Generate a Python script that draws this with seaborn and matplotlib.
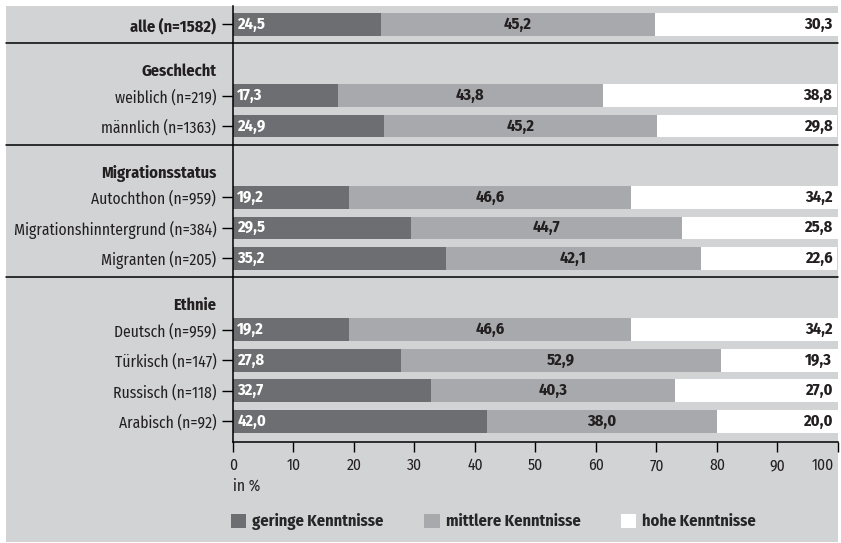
import seaborn as sns
import matplotlib.pyplot as plt
import pandas as pd
from matplotlib.patches import Rectangle, Patch
from matplotlib.transforms import ScaledTranslation

# Data (shares in %)
headers = ["", "Geschlecht", "Migrationsstatus", "Ethnie"]
row_labels = [
    ["alle (n=1582)"],
    ["weiblich (n=219)", "männlich (n=1363)"],
    ["Autochthon (n=959)", "Migrationshinntergrund (n=384)", "Migranten (n=205)"],
    ["Deutsch (n=959)", "Türkisch (n=147)", "Russisch (n=118)", "Arabisch (n=92)"],
]
geringe = [24.5, 17.3, 24.9, 19.2, 29.5, 35.2, 19.2, 27.8, 32.7, 42.0]
mittlere = [45.2, 43.8, 45.2, 46.6, 44.7, 42.1, 46.6, 52.9, 40.3, 38.0]
hohe = [30.3, 38.8, 29.8, 34.2, 25.8, 22.6, 34.2, 19.3, 27.0, 20.0]
legend_labels = ["geringe Kenntnisse", "mittlere Kenntnisse", "hohe Kenntnisse"]
x_ticks = list(range(0, 101, 10))

c_dark = "#6d6e71"
c_mid = "#a7a9ac"
c_high = "#ffffff"
c_bg = "#d1d3d4"
c_text = "#231f20"
fs = 11.2   # regular text
fsb = 11.8  # bold text

sns.set_style("white")
plt.rcParams["font.family"] = ["Fira Sans Condensed", "DejaVu Sans"]
plt.rcParams["font.size"] = fs

# row positions: groups separated by a header line
ypos, seps, head_pos, flat_labels = [], [], [], []
last = None
for gi, items in enumerate(row_labels):
    start = 0.0 if last is None else last + 2.33
    if last is not None:
        seps.append(last + 0.62)
    if headers[gi]:
        head_pos.append((headers[gi], start - 0.78))
    for k, lab in enumerate(items):
        ypos.append(start + k)
        flat_labels.append(lab)
    last = ypos[-1]

df = pd.DataFrame({"label": flat_labels, "pos": ypos,
                   "geringe": geringe, "mittlere": mittlere, "hohe": hohe})
df["cum_mid"] = df["geringe"] + df["mittlere"]
df["cum_all"] = df["cum_mid"] + df["hohe"]

W, H = 841, 543
fig = plt.figure(figsize=(W / 100, H / 100), dpi=100)
fig.patch.set_facecolor("white")
fig.add_artist(Rectangle((6 / W, 1 / H), (838 - 6) / W, (537 - 1) / H,
                         transform=fig.transFigure, facecolor=c_bg,
                         edgecolor="none", zorder=-10))

ax = fig.add_axes([233 / W, (H - 441.7) / H, (838 - 233) / W, (441.7 - 6) / H])
ax.set_facecolor("none")

for col, color in [("cum_all", c_high), ("cum_mid", c_mid), ("geringe", c_dark)]:
    sns.barplot(data=df, x=col, y="pos", orient="y", native_scale=True,
                color=color, saturation=1, width=0.74, linewidth=0,
                errorbar=None, ax=ax)

ax.set_xlim(0, 100)
ax.set_ylim(ypos[-1] + 0.667, -0.6)
ax.set_xlabel("")
ax.set_ylabel("")

# value labels
fmt = lambda v: f"{v:.1f}".replace(".", ",")
for _, r in df.iterrows():
    ax.annotate(fmt(r["geringe"]), xy=(0, r["pos"]), xytext=(3, 0),
                textcoords="offset points", ha="left", va="center",
                color="white", fontweight="bold", fontsize=fsb)
    ax.annotate(fmt(r["mittlere"]), xy=(r["geringe"] + r["mittlere"] / 2, r["pos"]),
                ha="center", va="center", color=c_text, fontweight="bold",
                fontsize=fsb)
    ax.annotate(fmt(r["hohe"]), xy=(100, r["pos"]), xytext=(-4, 0),
                textcoords="offset points", ha="right", va="center",
                color=c_text, fontweight="bold", fontsize=fsb)

# axes styling
for s in ["top", "right"]:
    ax.spines[s].set_visible(False)
for s in ["left", "bottom"]:
    ax.spines[s].set_color("black")
    ax.spines[s].set_linewidth(1.1)

ax.set_yticks(ypos, flat_labels)
ax.tick_params(axis="y", direction="out", length=8, width=1, color="black",
               pad=4, labelcolor=c_text, left=True)
ax.get_yticklabels()[0].set_fontweight("bold")
ax.get_yticklabels()[0].set_fontsize(fsb)

ax.set_xticks(x_ticks, [str(t) for t in x_ticks])
ax.tick_params(axis="x", direction="out", length=7.5, width=1, color="black",
               pad=4, labelcolor=c_text, bottom=True)
last_lab = ax.get_xticklabels()[-1]
last_lab.set_horizontalalignment("right")
last_lab.set_transform(last_lab.get_transform()
                       + ScaledTranslation(-3 / 72, 0, fig.dpi_scale_trans))

# group headers and separator lines
ytr = ax.get_yaxis_transform()
for name, yv in head_pos:
    ax.text(-0.028, yv, name, transform=ytr, ha="right", va="center",
            fontweight="bold", fontsize=fsb, color=c_text)
for yv in seps:
    ax.axhline(yv, xmin=(6 - 233) / 605, xmax=1, color="black",
               linewidth=1.1, clip_on=False)

fig.text(233 / W, 1 - 486 / H, "in %", ha="left", va="center", color=c_text)

handles = [Patch(facecolor=c, edgecolor="none") for c in [c_dark, c_mid, c_high]]
fig.legend(handles, legend_labels, loc="center left",
           bbox_to_anchor=(231 / W, 1 - 522 / H), ncol=3, frameon=False,
           handlelength=0.92, handleheight=0.92, handletextpad=0.37,
           columnspacing=2.5, borderpad=0, borderaxespad=0,
           prop={"weight": "bold", "size": fsb})

fig.savefig("out.png", dpi=100)
